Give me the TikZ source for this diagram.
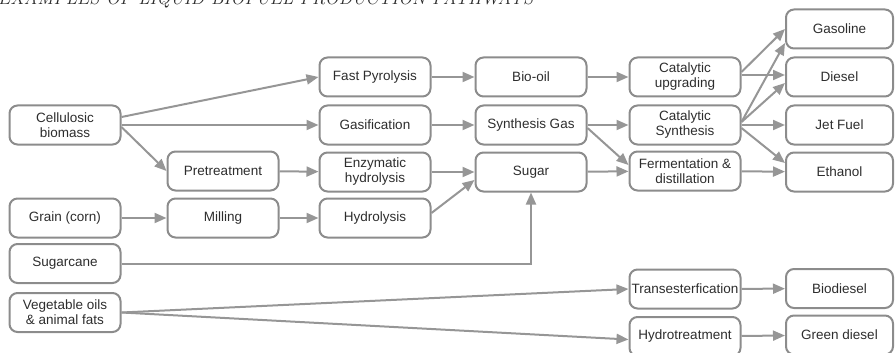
\documentclass[tikz,border=0pt]{standalone}
\usepackage{fontspec}
\newfontfamily\boxfont{Liberation Sans}
\definecolor{pathgray}{RGB}{150,150,150}
\definecolor{edgegray}{RGB}{140,140,140}
\definecolor{labelgray}{RGB}{45,45,45}
\usetikzlibrary{
  arrows.meta,
  positioning
}

\begin{document}
\begin{tikzpicture}[x=1pt, y=-1pt,
    >={Triangle[length=12pt, width=10pt]},
    stage/.style={draw=edgegray, line width=2pt, rounded corners=8pt,
      minimum width=111pt, minimum height=39pt, inner sep=1pt,
      align=center, text=labelgray,
      font=\boxfont\fontsize{13.5}{15}\selectfont},
    fuel/.style={stage, minimum width=107pt},
    flow/.style={->, pathgray, line width=2pt}]

  \useasboundingbox (0,0) rectangle (895,353);

  %% ===== TITLE (cut off at the top) =====
  \node[anchor=base west, inner sep=0pt, text=labelgray,
        font=\fontsize{18.5}{18.5}\selectfont\itshape] (title) at (-2,5)
    {EXAMPLES OF LIQUID BIOFUEL PRODUCTION PATHWAYS};

  %% ===== FEEDSTOCKS =====
  \node[stage] (cellulose) at (65,125)   {Cellulosic\\biomass};
  \node[stage] (grain)     at (65,218)   {Grain (corn)};
  \node[stage] (cane)      at (65,263.5) {Sugarcane};
  \node[stage] (vegoil)    at (65,312.5) {Vegetable oils\\\& animal fats};

  %% ===== PROCESSING =====
  \node[stage] (pretreat)  at (223,171)  {Pretreatment};
  \node[stage] (milling)   at (223,218)  {Milling};

  \node[stage] (pyrolysis) at (375,77)   {Fast Pyrolysis};
  \node[stage] (gasify)    at (375,125)  {Gasification};
  \node[stage] (enzymatic) at (375,172)  {Enzymatic\\hydrolysis};
  \node[stage] (hydrolyse) at (375,218)  {Hydrolysis};

  % Intermediates
  \node[stage] (biooil)    at (531,77)   {Bio-oil};
  \node[stage] (syngas)    at (531,125)  {Synthesis Gas};
  \node[stage] (sugar)     at (531,172)  {Sugar};

  % Conversion
  \node[stage] (upgrade)   at (685,77)   {Catalytic\\upgrading};
  \node[stage] (synth)     at (685,125)  {Catalytic\\Synthesis};
  \node[stage] (ferment)   at (685,171)  {Fermentation \&\\distillation};
  \node[stage] (transest)  at (685,289)  {Transesterfication};
  \node[stage] (hydrotreat) at (685,336.5) {Hydrotreatment};

  %% ===== FUELS =====
  \node[fuel] (gasoline)   at (839.5,29)  {Gasoline};
  \node[fuel] (diesel)     at (839.5,77)  {Diesel};
  \node[fuel] (jetfuel)    at (839.5,125) {Jet Fuel};
  \node[fuel] (ethanol)    at (839.5,172) {Ethanol};
  \node[fuel] (biodiesel)  at (839.5,288.5) {Biodiesel};
  \node[fuel] (greendiesel) at (839.5,335) {Green diesel};

  %% ===== CONNECTORS =====
  \draw[flow] ([yshift=8pt]cellulose.east) -- (pyrolysis.west);
  \draw[flow] (cellulose.east) -- (gasify.west);
  \draw[flow] ([yshift=-2pt]cellulose.east) -- (pretreat.west);
  \draw[flow] (pretreat) -- (enzymatic);
  \draw[flow] (grain) -- (milling);
  \draw[flow] (milling) -- (hydrolyse);

  \draw[flow] (pyrolysis) -- (biooil);
  \draw[flow] (gasify) -- (syngas);
  \draw[flow] (enzymatic) -- (sugar);
  \draw[flow] ([yshift=5pt]hydrolyse.east) -- ([yshift=-8pt]sugar.west);
  \draw[flow] (cane.east) -| (sugar.south);

  \draw[flow] (biooil) -- (upgrade);
  \draw[flow] (syngas) -- (synth);
  \draw[flow] ([yshift=-3pt]syngas.east) -- ([yshift=6pt]ferment.west);
  \draw[flow] (sugar) -- (ferment);

  \draw[flow] ([yshift=5pt]upgrade.east) -- (gasoline.west);
  \draw[flow] ([yshift=2pt]upgrade.east) -- ([yshift=2pt]diesel.west);
  \draw[flow] ([yshift=3pt]synth.east) -- ([yshift=-14pt]gasoline.west);
  \draw[flow] ([yshift=3pt]synth.east) -- ([yshift=-6pt]diesel.west);
  \draw[flow] (synth) -- (jetfuel);
  \draw[flow] ([yshift=-3pt]synth.east) -- ([yshift=9pt]ethanol.west);
  \draw[flow] (ferment) -- (ethanol);

  \draw[flow] (vegoil.east) -- (transest.west);
  \draw[flow] (vegoil.east) -- ([yshift=-3pt]hydrotreat.west);
  \draw[flow] (transest) -- (biodiesel);
  \draw[flow] (hydrotreat) -- (greendiesel);

\end{tikzpicture}
\end{document}
